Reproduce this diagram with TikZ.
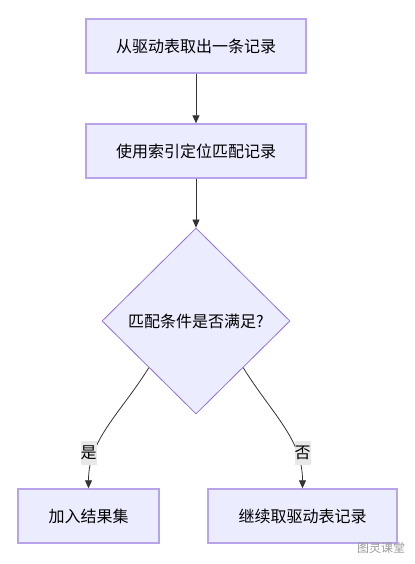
\documentclass[tikz,border=0pt]{standalone}
\usepackage{fontspec}
\newfontfamily\cjk{Noto Sans CJK SC}
\usetikzlibrary{shapes.geometric,arrows.meta}
\definecolor{boxfill}{HTML}{ECECFF}
\definecolor{boxline}{HTML}{B9A4EC}
\definecolor{decline}{HTML}{9370DB}
\definecolor{edgecol}{HTML}{333333}
\definecolor{labelbg}{HTML}{E8E8E8}
\tikzset{
  stepbox/.style={draw=boxline,fill=boxfill,line width=1.4bp,rectangle,minimum height=54bp,inner sep=0pt},
  decision/.style={draw=decline,fill=boxfill,line width=0.8bp,diamond,aspect=1,minimum width=188bp,minimum height=186bp,inner sep=0pt},
  flow/.style={draw=edgecol,line width=0.8bp,-{Triangle[length=8bp,width=7bp]}},
  edgelabel/.style={fill=labelbg,inner sep=0pt,minimum height=24bp,minimum width=16bp},
}
\begin{document}
\begin{tikzpicture}[font=\cjk\fontsize{16bp}{19bp}\selectfont]
  \useasboundingbox (0bp,0bp) rectangle (415bp,564bp);
  %%
  \node (Fetch) at (196bp,518bp) [stepbox,minimum width=220bp] {从驱动表取出一条记录};
  \node (Index) at (196bp,413bp) [stepbox,minimum width=220bp] {使用索引定位匹配记录};
  \node (Match) at (196bp,243bp) [decision] {匹配条件是否满足?};
  \node (Join) at (88.5bp,48bp) [stepbox,minimum width=141bp] {加入结果集};
  \node (Next) at (302.5bp,48bp) [stepbox,minimum width=189bp] {继续取驱动表记录};
  \draw [flow] (Fetch) -- (Index);
  \draw [flow] (Index) -- (Match);
  \draw [flow] (Match.south west) ..controls (120bp,150bp) and (88.5bp,125bp) .. (Join.north);
  \draw [flow] (Match.south east) ..controls (272bp,150bp) and (302.5bp,125bp) .. (Next.north);
  \node (Yes) at (88.5bp,111bp) [edgelabel] {是};
  \node (No) at (302.5bp,111bp) [edgelabel] {否};
  \node (Mark) at (381bp,16bp) [text=black!40,font=\cjk\fontsize{12bp}{14bp}\selectfont] {图灵课堂};
  %
\end{tikzpicture}
\end{document}
